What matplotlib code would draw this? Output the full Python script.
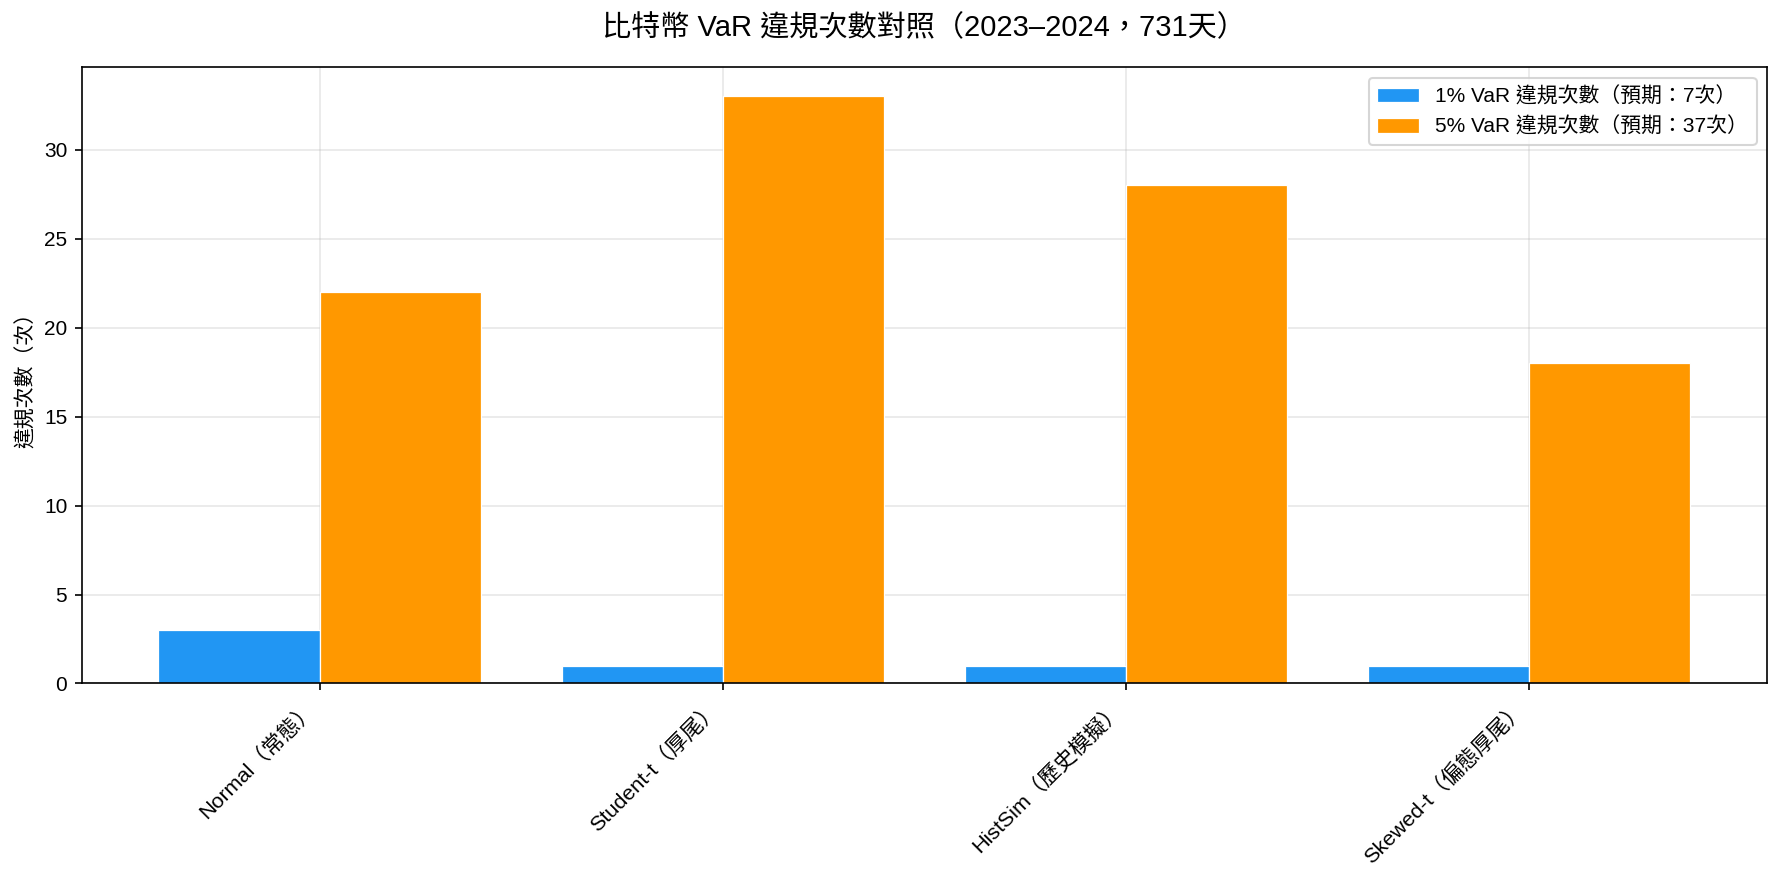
import matplotlib
matplotlib.use("Agg")
import matplotlib.pyplot as plt
import numpy as np

plt.rcParams['font.family'] = ['Liberation Sans', 'Noto Sans CJK TC', 'DejaVu Sans']
plt.rcParams['axes.unicode_minus'] = False

categories = ["Normal（常態）", "Student-t（厚尾）", "HistSim（歷史模擬）", "Skewed-t（偏態厚尾）"]
viol_1pct = [3, 1, 1, 1]
viol_5pct = [22, 33, 28, 18]
labels = ["1% VaR 違規次數（預期：7次）", "5% VaR 違規次數（預期：37次）"]
title = "比特幣 VaR 違規次數對照（2023–2024，731天）"
ylabel = "違規次數（次）"

fig = plt.figure(figsize=(1783/150, 883/150), dpi=150)
ax = fig.add_axes([0.0459, 0.226, 0.991-0.0459, 0.924-0.226])

x = np.arange(len(categories))
w = 0.4
ax.set_axisbelow(True)
ax.bar(x - w/2, viol_1pct, w, color="#2196F3", edgecolor="white", linewidth=0.6, label=labels[0])
ax.bar(x + w/2, viol_5pct, w, color="#FF9800", edgecolor="white", linewidth=0.6, label=labels[1])

ax.set_xticks(x)
ax.set_xticklabels(categories, rotation=45, ha="right", fontsize=10.3)
ax.tick_params(axis='y', labelsize=10)
ax.set_ylabel(ylabel, fontsize=10)
ax.yaxis.set_label_coords(-0.027, 0.5)
ax.grid(True, alpha=0.3)
ax.legend(loc="upper right", fontsize=10)
ax.set_title(title, fontsize=14, pad=15)

fig.savefig("out.png", dpi=150)
